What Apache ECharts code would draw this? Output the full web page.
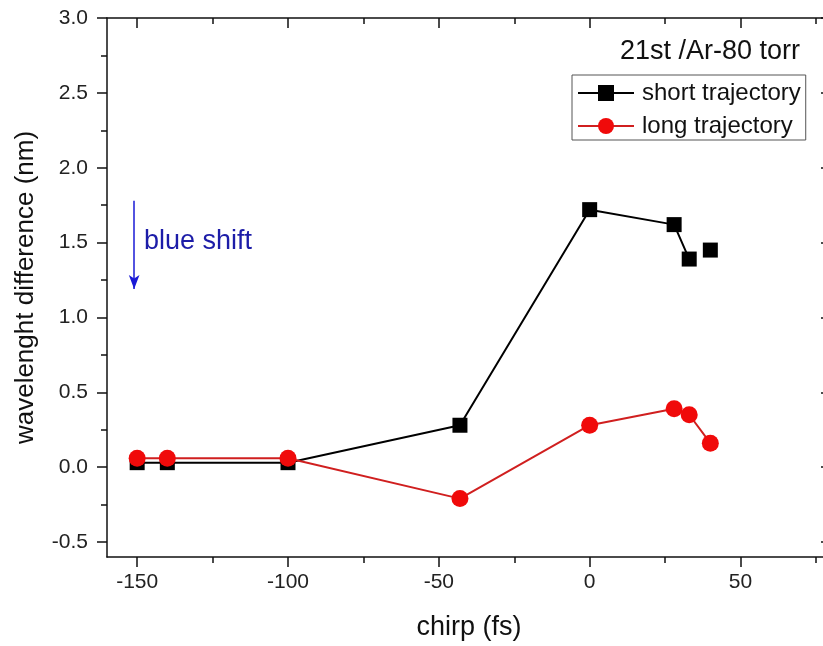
<!DOCTYPE html>
<html>
<head>
<meta charset="utf-8">
<script src="https://cdn.jsdelivr.net/npm/echarts@6/dist/echarts.min.js"></script>
<style>
  html, body { margin: 0; padding: 0; background: #fff; }
  #chart { width: 823px; height: 646px; }
</style>
</head>
<body>
<div id="chart"></div>
<script>
// chirp delay (fs) of each measurement
const chirp = [-150, -140, -100, -43, 0, 28, 33, 40];
// wavelength difference (nm) of the short-trajectory harmonic
const shortDiff = [0.03, 0.03, 0.03, 0.28, 1.72, 1.62, 1.39, 1.45];
// wavelength difference (nm) of the long-trajectory harmonic
const longDiff = [0.06, 0.06, 0.06, -0.21, 0.28, 0.39, 0.35, 0.16];
// the short-trajectory line joins only the first points; the last one stands alone
const shortJoined = 7;

// axis ranges and tick positions
const xRange = [-160, 80];
const yRange = [-0.6, 3.0];
const xMajor = [-150, -100, -50, 0, 50];
const xMinor = [-125, -75, -25, 25, 75];
const yMajor = [-0.5, 0.0, 0.5, 1.0, 1.5, 2.0, 2.5, 3.0];
const yMinor = [-0.25, 0.25, 0.75, 1.25, 1.75, 2.25, 2.75];

// blue-shift arrow in data units: [chirp, from nm, to nm]
const arrowPos = [-151, 1.78, 1.19];

const FONT = 'Arial, "Liberation Sans", sans-serif';
const INK = '#111';
const pairs = (xs, ys) => xs.map((x, i) => [x, ys[i]]);
const shortPts = pairs(chirp, shortDiff);
const longPts = pairs(chirp, longDiff);

const chart = echarts.init(document.getElementById('chart'));
const lineStyle = { color: INK, width: 1.5 };

// one axis of the frame: a side, tick values, tick length, inward or outward
function frameAxis(pos, range, ticks, len, inside, showLine, extra) {
  return Object.assign({
    type: 'value', min: range[0], max: range[1], position: pos,
    axisLine: { show: showLine, onZero: false, lineStyle },
    axisTick: { show: true, inside, length: len, customValues: ticks, lineStyle },
    axisLabel: { show: false },
    splitLine: { show: false }
  }, extra || {});
}

const option = {
  backgroundColor: '#fff',
  animation: false,
  // the plot frame runs a little past the right edge of the canvas
  grid: { left: 107, top: 18, width: 724, height: 539,
          containLabel: false, outerBoundsMode: 'none' },
  xAxis: [
    frameAxis('bottom', xRange, xMajor, 10, false, true, {
      name: 'chirp (fs)', nameLocation: 'middle', nameGap: 57,
      nameTextStyle: { fontFamily: FONT, fontSize: 27, color: INK },
      axisLabel: { show: true, customValues: xMajor, fontFamily: FONT,
                   fontSize: 21, color: '#222', margin: 15 }
    }),
    frameAxis('top', xRange, xMajor, 10, true, true),
    frameAxis('bottom', xRange, xMinor, 6, false, false),
    frameAxis('top', xRange, xMinor, 6, true, false)
  ],
  yAxis: [
    frameAxis('left', yRange, yMajor, 10, false, true, {
      name: 'wavelenght difference (nm)', nameLocation: 'middle', nameGap: 68,
      nameTextStyle: { fontFamily: FONT, fontSize: 26, color: INK },
      axisLabel: { show: true, customValues: yMajor, fontFamily: FONT,
                   fontSize: 21, color: '#222', margin: 19,
                   formatter: v => v.toFixed(1) }
    }),
    frameAxis('right', yRange, yMajor, 10, true, true),
    frameAxis('left', yRange, yMinor, 6, false, false),
    frameAxis('right', yRange, yMinor, 6, true, false)
  ],
  legend: {
    data: ['short trajectory', 'long trajectory'],
    orient: 'vertical',
    left: 572, top: 75,
    padding: [6, 5, 2, 5],
    itemGap: 9,
    itemWidth: 56, itemHeight: 20,
    borderColor: '#555', borderWidth: 1,
    backgroundColor: '#fff',
    textStyle: { fontFamily: FONT, fontSize: 24, color: INK, padding: [0, 0, 0, 3] }
  },
  graphic: [
    {
      type: 'text', right: 23, top: 38,
      style: { text: '21st /Ar-80 torr', font: '27px ' + FONT, fill: INK }
    },
    {
      type: 'text', left: 144, top: 228,
      style: { text: 'blue shift', font: '27px ' + FONT, fill: '#1c1ca8' }
    }
  ],
  series: [
    {
      name: 'short trajectory', type: 'line',
      data: shortPts.slice(0, shortJoined),
      symbol: 'rect', symbolSize: 15,
      itemStyle: { color: '#000' },
      lineStyle: { color: '#000', width: 2 },
      z: 3,
      markLine: {
        silent: true,
        symbol: ['none', 'arrow'], symbolSize: [8, 14],
        label: { show: false },
        lineStyle: { color: '#1a1ad6', width: 1.5, type: 'solid' },
        data: [[
          { coord: [arrowPos[0], arrowPos[1]] },
          { coord: [arrowPos[0], arrowPos[2]] }
        ]]
      }
    },
    {
      name: 'short trajectory', type: 'line',
      data: shortPts.slice(shortJoined),
      symbol: 'rect', symbolSize: 15,
      itemStyle: { color: '#000' },
      lineStyle: { color: '#000', width: 2 },
      z: 3
    },
    {
      name: 'long trajectory', type: 'line',
      data: longPts,
      symbol: 'circle', symbolSize: 17,
      itemStyle: { color: '#f00a0a' },
      lineStyle: { color: '#d01f1f', width: 2 },
      z: 4
    }
  ]
};

chart.setOption(option);
</script>
</body>
</html>
